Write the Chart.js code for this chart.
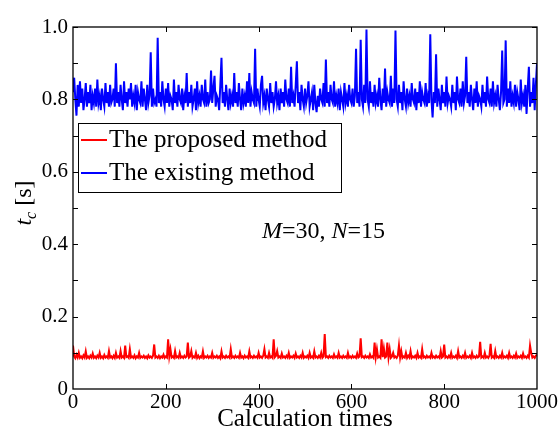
<!DOCTYPE html>
<html>
<head>
<meta charset="utf-8">
<script src="https://cdn.jsdelivr.net/npm/chart.js@4.4.1/dist/chart.umd.min.js"></script>
<style>
  html, body { margin: 0; padding: 0; background: #fff; }
</style>
</head>
<body>
<canvas id="chart" width="560" height="432"></canvas>
<script>
// calculation index, one sample every 2.5 runs (20 samples per row below)
const calcTimes = Array.from({ length: 401 }, (_, i) => i * 2.5);

// t_c [s] of the existing method (blue)
const existingMethod = [
  0.82,0.86,0.80,0.755,0.84,0.78,0.85,0.79,0.83,0.77,0.80,0.845,0.78,0.82,0.79,0.84,0.77,0.81,0.79,0.83,
  0.78,0.855,0.79,0.81,0.77,0.83,0.80,0.78,0.845,0.79,0.82,0.78,0.84,0.79,0.80,0.83,0.78,0.90,0.79,0.82,
  0.78,0.84,0.80,0.77,0.85,0.79,0.82,0.78,0.83,0.80,0.845,0.78,0.81,0.79,0.84,0.77,0.82,0.80,0.79,0.85,
  0.78,0.83,0.80,0.77,0.84,0.79,0.81,0.93,0.78,0.83,0.79,0.80,0.78,0.97,0.79,0.82,0.78,0.85,0.80,0.78,
  0.83,0.79,0.845,0.78,0.81,0.80,0.77,0.855,0.79,0.82,0.78,0.84,0.80,0.79,0.83,0.77,0.81,0.79,0.873,0.78,
  0.82,0.79,0.84,0.78,0.80,0.83,0.77,0.85,0.79,0.81,0.78,0.84,0.80,0.79,0.855,0.78,0.82,0.79,0.80,0.88,
  0.79,0.83,0.865,0.78,0.81,0.80,0.77,0.84,0.915,0.79,0.82,0.78,0.84,0.80,0.77,0.83,0.79,0.81,0.78,0.873,
  0.79,0.82,0.78,0.845,0.80,0.77,0.83,0.79,0.81,0.78,0.85,0.79,0.873,0.78,0.82,0.80,0.79,0.94,0.78,0.83,
  0.80,0.78,0.84,0.865,0.79,0.81,0.77,0.83,0.80,0.78,0.845,0.79,0.82,0.78,0.80,0.85,0.79,0.81,0.77,0.83,
  0.79,0.82,0.78,0.855,0.80,0.79,0.83,0.78,0.89,0.79,0.81,0.78,0.84,0.905,0.79,0.82,0.77,0.84,0.80,0.78,
  0.83,0.79,0.81,0.85,0.78,0.80,0.82,0.77,0.84,0.79,0.765,0.81,0.78,0.83,0.80,0.79,0.845,0.78,0.91,0.79,
  0.82,0.78,0.84,0.80,0.79,0.85,0.78,0.81,0.79,0.83,0.77,0.82,0.80,0.78,0.845,0.79,0.81,0.78,0.84,0.80,
  0.79,0.83,0.78,0.81,0.94,0.79,0.82,0.78,0.965,0.80,0.78,0.84,0.79,0.993,0.80,0.78,0.85,0.79,0.82,0.78,
  0.84,0.79,0.81,0.78,0.86,0.80,0.77,0.83,0.79,0.885,0.78,0.82,0.80,0.79,0.865,0.78,0.83,0.79,0.99,0.80,
  0.78,0.84,0.79,0.82,0.77,0.85,0.80,0.78,0.83,0.79,0.81,0.78,0.845,0.80,0.79,0.83,0.77,0.82,0.79,0.85,
  0.78,0.82,0.80,0.79,0.845,0.78,0.81,0.79,0.98,0.80,0.75,0.82,0.79,0.925,0.78,0.83,0.80,0.77,0.84,0.79,
  0.82,0.78,0.863,0.79,0.81,0.80,0.78,0.84,0.79,0.82,0.77,0.863,0.80,0.79,0.83,0.78,0.85,0.79,0.81,0.918,
  0.79,0.82,0.78,0.84,0.80,0.77,0.83,0.79,0.85,0.78,0.81,0.80,0.78,0.84,0.79,0.82,0.78,0.863,0.80,0.79,
  0.83,0.78,0.85,0.79,0.81,0.78,0.84,0.80,0.77,0.82,0.935,0.79,0.80,0.963,0.78,0.83,0.79,0.85,0.78,0.81,
  0.79,0.84,0.78,0.82,0.80,0.77,0.855,0.79,0.81,0.78,0.84,0.76,0.83,0.89,0.78,0.82,0.79,0.86,0.77,0.84,
  0.90
];

// t_c [s] of the proposed method (red)
const proposedMethod = [
  0.12,0.09,0.085,0.095,0.087,0.10,0.086,0.09,0.085,0.093,0.087,0.104,0.086,0.09,0.085,0.092,0.087,0.098,0.086,0.09,
  0.085,0.092,0.087,0.10,0.086,0.09,0.085,0.094,0.087,0.09,0.086,0.105,0.087,0.09,0.085,0.092,0.086,0.10,0.087,0.09,
  0.086,0.105,0.087,0.09,0.086,0.12,0.088,0.09,0.086,0.11,0.087,0.09,0.086,0.093,0.085,0.09,0.087,0.10,0.086,0.09,
  0.087,0.092,0.086,0.09,0.085,0.093,0.087,0.09,0.086,0.092,0.123,0.087,0.09,0.086,0.092,0.085,0.09,0.087,0.095,0.086,
  0.09,0.087,0.137,0.09,0.11,0.087,0.09,0.086,0.105,0.087,0.09,0.086,0.10,0.087,0.09,0.086,0.092,0.087,0.09,0.128,
  0.087,0.09,0.105,0.086,0.09,0.087,0.10,0.086,0.092,0.085,0.09,0.087,0.104,0.086,0.09,0.087,0.092,0.086,0.09,0.087,
  0.10,0.086,0.09,0.087,0.092,0.086,0.09,0.085,0.104,0.087,0.09,0.086,0.092,0.087,0.09,0.086,0.11,0.087,0.09,0.086,
  0.092,0.087,0.09,0.086,0.10,0.087,0.09,0.085,0.092,0.087,0.09,0.086,0.104,0.087,0.09,0.086,0.092,0.087,0.09,0.086,
  0.10,0.087,0.09,0.086,0.092,0.11,0.087,0.09,0.086,0.10,0.087,0.09,0.086,0.137,0.088,0.092,0.105,0.087,0.09,0.086,
  0.098,0.087,0.09,0.086,0.092,0.087,0.10,0.086,0.09,0.087,0.092,0.086,0.098,0.087,0.09,0.086,0.092,0.087,0.10,0.086,
  0.09,0.087,0.092,0.086,0.10,0.087,0.09,0.086,0.104,0.087,0.09,0.086,0.092,0.087,0.10,0.086,0.09,0.152,0.088,0.09,
  0.086,0.092,0.087,0.09,0.086,0.096,0.087,0.09,0.086,0.10,0.087,0.09,0.086,0.092,0.087,0.09,0.086,0.10,0.087,0.09,
  0.086,0.092,0.087,0.09,0.086,0.098,0.087,0.09,0.14,0.088,0.09,0.086,0.092,0.087,0.09,0.086,0.096,0.087,0.09,0.086,
  0.128,0.088,0.11,0.087,0.09,0.086,0.137,0.088,0.112,0.087,0.09,0.128,0.087,0.11,0.086,0.09,0.10,0.087,0.09,0.086,
  0.092,0.12,0.087,0.105,0.086,0.09,0.087,0.10,0.086,0.092,0.087,0.105,0.086,0.09,0.087,0.092,0.086,0.10,0.087,0.09,
  0.086,0.11,0.087,0.09,0.086,0.092,0.087,0.09,0.086,0.10,0.087,0.09,0.086,0.092,0.087,0.09,0.086,0.105,0.087,0.09,
  0.123,0.087,0.09,0.086,0.092,0.087,0.10,0.086,0.09,0.087,0.092,0.086,0.105,0.087,0.09,0.086,0.092,0.087,0.10,0.086,
  0.09,0.087,0.092,0.086,0.10,0.087,0.09,0.086,0.092,0.087,0.09,0.13,0.087,0.09,0.086,0.10,0.087,0.09,0.086,0.092,
  0.125,0.087,0.09,0.086,0.105,0.087,0.09,0.086,0.092,0.087,0.10,0.086,0.09,0.087,0.092,0.086,0.10,0.087,0.09,0.086,
  0.092,0.087,0.098,0.086,0.09,0.087,0.092,0.086,0.098,0.087,0.09,0.086,0.092,0.087,0.12,0.10,0.087,0.09,0.086,0.092,
  0.095
];

const seriesNames = ["The proposed method", "The existing method"];
const seriesColors = ["#ff0000", "#0000ff"];
const yTicks = [0, 0.2, 0.4, 0.6, 0.8, 1.0];
const xTicks = [0, 200, 400, 600, 800, 1000];

const FONT = "'Liberation Serif', 'Times New Roman', serif";

function toPoints(values) {
  return values.map((v, i) => ({ x: calcTimes[i], y: v }));
}

// frame, inward ticks, legend, y title and the M/N note
const decor = {
  id: "decor",
  afterDraw(chart) {
    const ctx = chart.ctx;
    const a = chart.chartArea;
    const xs = chart.scales.x, ys = chart.scales.y;
    ctx.save();
    ctx.strokeStyle = "#000";
    ctx.lineWidth = 1.3;
    ctx.strokeRect(a.left, a.top, a.right - a.left, a.bottom - a.top);

    ctx.lineWidth = 1;
    ctx.beginPath();
    for (let v = 0.1; v < 1; v += 0.1) {
      const y = Math.round(ys.getPixelForValue(v)) + 0.5;
      ctx.moveTo(a.left, y); ctx.lineTo(a.left + 5, y);
      ctx.moveTo(a.right, y); ctx.lineTo(a.right - 5, y);
    }
    xTicks.slice(1, -1).forEach(v => {
      const x = Math.round(xs.getPixelForValue(v)) + 0.5;
      ctx.moveTo(x, a.bottom); ctx.lineTo(x, a.bottom - 5);
      ctx.moveTo(x, a.top); ctx.lineTo(x, a.top + 5);
    });
    ctx.stroke();

    // legend
    ctx.fillStyle = "#fff";
    ctx.fillRect(78, 123, 263, 69);
    ctx.strokeStyle = "#000";
    ctx.lineWidth = 1;
    ctx.strokeRect(78.5, 123.5, 263, 69);
    const rows = [140, 173];
    ctx.font = "25px " + FONT;
    ctx.textBaseline = "alphabetic";
    ctx.textAlign = "left";
    seriesNames.forEach((name, i) => {
      ctx.strokeStyle = seriesColors[i];
      ctx.lineWidth = 2;
      ctx.beginPath();
      ctx.moveTo(81, rows[i]);
      ctx.lineTo(107, rows[i]);
      ctx.stroke();
      ctx.fillStyle = "#000";
      ctx.fillText(name, 109, rows[i] + 7);
    });

    // M=30, N=15
    const parts = [["M", true], ["=30, ", false], ["N", true], ["=15", false]];
    let x = 262;
    parts.forEach(([t, it]) => {
      ctx.font = (it ? "italic " : "") + "24px " + FONT;
      ctx.fillText(t, x, 238);
      x += ctx.measureText(t).width;
    });

    // y title: t_c [s]
    ctx.translate(31, 203);
    ctx.rotate(-Math.PI / 2);
    ctx.font = "italic 24px " + FONT;
    const w1 = ctx.measureText("t").width;
    ctx.font = "italic 16px " + FONT;
    const w2 = ctx.measureText("c").width;
    ctx.font = "24px " + FONT;
    const w3 = ctx.measureText(" [s]").width;
    let tx = -(w1 + w2 + w3) / 2;
    ctx.font = "italic 24px " + FONT;
    ctx.fillText("t", tx, 0);
    tx += w1;
    ctx.font = "italic 16px " + FONT;
    ctx.fillText("c", tx, 5);
    tx += w2;
    ctx.font = "24px " + FONT;
    ctx.fillText(" [s]", tx, 0);
    ctx.restore();
  }
};

new Chart(document.getElementById("chart"), {
  type: "line",
  data: {
    datasets: [
      {
        label: seriesNames[0],
        data: toPoints(proposedMethod),
        borderColor: seriesColors[0],
        borderWidth: 2,
        pointRadius: 0,
        tension: 0
      },
      {
        label: seriesNames[1],
        data: toPoints(existingMethod),
        borderColor: seriesColors[1],
        borderWidth: 2,
        pointRadius: 0,
        tension: 0
      }
    ]
  },
  options: {
    responsive: false,
    animation: false,
    layout: { padding: { top: 27, right: 23, left: 0, bottom: 0 } },
    plugins: { legend: { display: false }, tooltip: { enabled: false } },
    scales: {
      x: {
        type: "linear",
        min: 0,
        max: 1000,
        afterFit(scale) { scale.height = 43; },
        afterBuildTicks(scale) { scale.ticks = xTicks.map(v => ({ value: v })); },
        grid: { display: false, drawTicks: false },
        border: { display: false },
        ticks: {
          maxRotation: 0,
          padding: 1,
          color: "#000",
          font: { family: FONT, size: 21 },
          callback: v => String(v)
        },
        title: {
          display: true,
          text: "Calculation times",
          color: "#000",
          font: { family: FONT, size: 25, lineHeight: 1 },
          padding: { top: 0, bottom: 0 }
        }
      },
      y: {
        min: 0,
        max: 1,
        afterFit(scale) { scale.width = 73; },
        afterBuildTicks(scale) { scale.ticks = yTicks.map(v => ({ value: v })); },
        grid: { display: false, drawTicks: false },
        border: { display: false },
        ticks: {
          padding: 5,
          color: "#000",
          font: { family: FONT, size: 21 },
          callback: v => (v === 0 ? "0" : v.toFixed(1))
        }
      }
    }
  },
  plugins: [decor]
});
</script>
</body>
</html>
